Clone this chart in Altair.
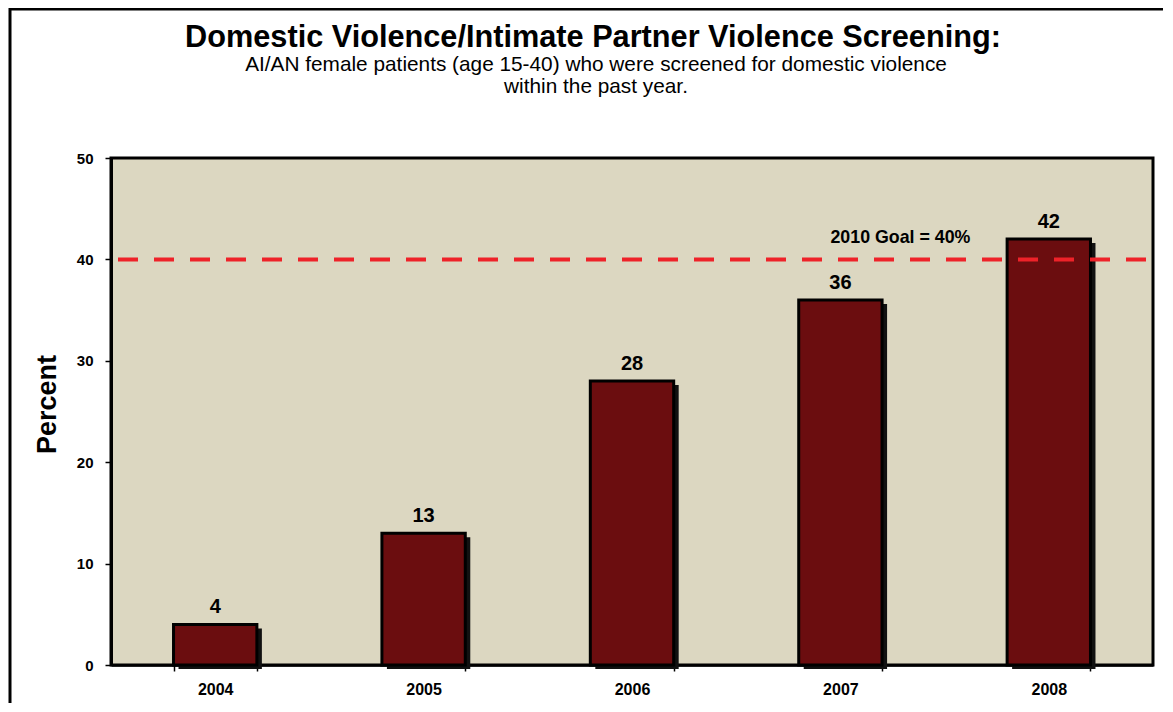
import altair as alt
import pandas as pd

years = ["2004", "2005", "2006", "2007", "2008"]
values = [4, 13, 28, 36, 42]
goal = 40
goal_label = "2010 Goal = 40%"
y_ticks = [0, 10, 20, 30, 40, 50]

title_text = "Domestic Violence/Intimate Partner Violence Screening:"
subtitle_lines = [
    "AI/AN female patients (age  15-40) who were screened for domestic violence",
    "within the past year.",
]

FONT = "Liberation Sans"

df = pd.DataFrame({"year": years, "value": values})
goal_df = pd.DataFrame({"year": ["2007"], "goal": [goal], "label": [goal_label]})
one = pd.DataFrame({"k": [0]})

x_enc = alt.X(
    "year:N",
    sort=years,
    scale=alt.Scale(paddingInner=0.6, paddingOuter=0.3),
    axis=alt.Axis(
        title=None,
        labelAngle=0,
        tickBand="extent",
        labelFontSize=16,
        labelPadding=10,
        tickSize=6,
        domainWidth=2.5,
    ),
)
y_enc = alt.Y(
    "value:Q",
    scale=alt.Scale(domain=[0, 50], nice=False),
    axis=alt.Axis(
        values=y_ticks,
        grid=False,
        title="Percent",
        titleFontSize=27,
        titleFont=FONT,
        titleFontWeight="bold",
        titleColor="black",
        titleBaseline="alphabetic",
        titleX=-56,
        titleY=246,
        labelFontSize=15,
        labelPadding=12,
        tickSize=6,
        domainWidth=3,
    ),
)

base = alt.Chart(df)

shadow = base.mark_bar(color="#111111", xOffset=5, yOffset=4).encode(x=x_enc, y=y_enc)
bars = base.mark_bar(color="#6B0D0F", stroke="black", strokeWidth=3).encode(x=x_enc, y=y_enc)
labels = base.mark_text(
    font=FONT, fontSize=20, fontWeight="bold", color="black", baseline="alphabetic", dy=-11
).encode(x=x_enc, y=y_enc, text="value:Q")

goal_rule = alt.Chart(goal_df).mark_rule(
    color="#EE2229", strokeWidth=4, strokeDash=[20, 16], strokeDashOffset=29
).encode(y=alt.Y("goal:Q"))

goal_text = alt.Chart(goal_df).mark_text(
    font=FONT, fontSize=17.8, fontWeight="bold", color="black", baseline="alphabetic", dx=60, dy=-16
).encode(x=alt.X("year:N"), y=alt.Y("goal:Q"), text="label:N")

frame_left = alt.Chart(one).mark_rule(color="black", strokeWidth=3).encode(
    x=alt.value(-101), y=alt.value(-150), y2=alt.value(560)
)
frame_top = alt.Chart(one).mark_rule(color="black", strokeWidth=3).encode(
    x=alt.value(-102), x2=alt.value(1060), y=alt.value(-149)
)

title_mark = alt.Chart(one).mark_text(
    font=FONT, fontSize=30.7, fontWeight="bold", color="black", baseline="alphabetic", align="center"
).encode(x=alt.value(482), y=alt.value(-111), text=alt.value(title_text))
sub1 = alt.Chart(one).mark_text(
    font=FONT, fontSize=20.8, color="black", baseline="alphabetic", align="center"
).encode(x=alt.value(485), y=alt.value(-87), text=alt.value(subtitle_lines[0]))
sub2 = alt.Chart(one).mark_text(
    font=FONT, fontSize=20.8, color="black", baseline="alphabetic", align="center"
).encode(x=alt.value(485), y=alt.value(-65), text=alt.value(subtitle_lines[1]))

chart = (
    alt.layer(shadow, bars, labels, goal_rule, goal_text, frame_left, frame_top,
              title_mark, sub1, sub2)
    .properties(
        width=1042,
        height=507,
        background="white",
        autosize=alt.AutoSizeParams(type="none"),
        padding={"left": 103, "top": 150, "right": 10, "bottom": 38},
        view=alt.ViewBackground(fill="#DCD7C1", stroke="black", strokeWidth=3),
    )
    .configure_view(fill="#DCD7C1", stroke="black", strokeWidth=3)
    .configure_axis(
        domainColor="black",
        tickColor="black",
        tickWidth=1.5,
        labelFont=FONT,
        labelFontWeight="bold",
        labelColor="black",
    )
)

chart.save("out.html", embed_options={"renderer": "svg", "actions": False})
